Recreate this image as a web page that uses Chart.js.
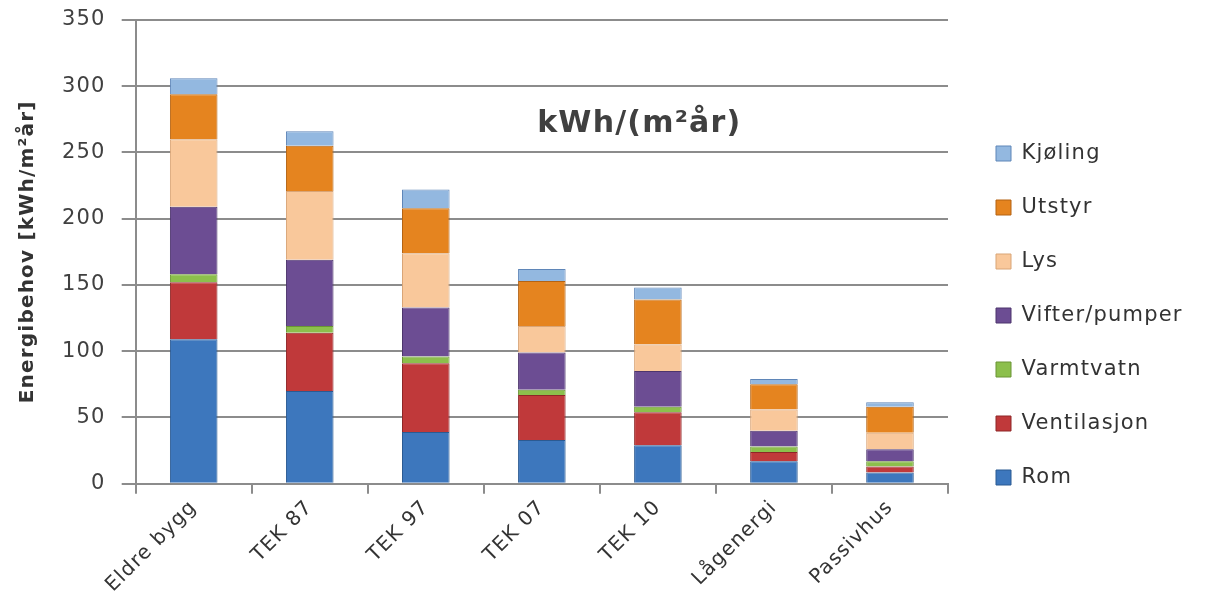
<!DOCTYPE html>
<html>
<head>
<meta charset="utf-8">
<script src="https://cdn.jsdelivr.net/npm/chart.js@4/dist/chart.umd.min.js"></script>
<style>
  html, body { margin: 0; padding: 0; background: #fff; }
  #wrap { width: 1212px; height: 611px; }
</style>
</head>
<body>
<div id="wrap"><canvas id="energi"></canvas></div>
<script>
var categories = ["Eldre bygg", "TEK 87", "TEK 97", "TEK 07", "TEK 10", "Lågenergi", "Passivhus"]

var rom         = [109, 70, 39, 33, 29, 17, 8.5]
var ventilasjon = [43, 44, 52, 34, 25, 7, 4.5]
var varmtvatn   = [6, 5, 5, 4, 4, 4, 4]
var vifter      = [51, 50, 37, 28, 27, 12, 9]
var lys         = [51, 52, 41, 20, 20, 16, 12.5]
var utstyr      = [34, 34, 34, 34, 34, 19, 19.5]
var kjoling     = [12, 11, 14, 9, 9, 4, 3.5]

var yMin = 0, yMax = 350, yStep = 50
var yTitle = "Energibehov [kWh/m²år]"
var noteText = "kWh/(m²år)"

var font = '"DejaVu Sans", "Liberation Sans", sans-serif'

function serie(label, data, color, edge) {
  return {
    label: label,
    data: data,
    backgroundColor: color,
    borderColor: edge,
    borderWidth: 1,
    stack: 'a'
  }
}

// the original text is a bit wide, spread the letters a little
var spacing = {
  id: 'spacing',
  beforeLayout: function (chart) { chart.ctx.letterSpacing = '1.2px' },
  beforeDraw: function (chart) { chart.ctx.letterSpacing = '1.2px' }
}

// legend sits in a fixed column on the right, nudged away from the plot
var legendBox = {
  id: 'legendBox',
  beforeInit: function (chart) {
    var fit = chart.legend.fit
    chart.legend.fit = function () {
      fit.bind(chart.legend)()
      this.width = 264
    }
  },
  afterLayout: function (chart) {
    var lg = chart.legend
    lg.left += 15; lg.right += 15
    lg.top += 16; lg.bottom += 16
  }
}

var note = {
  id: 'note',
  afterDatasetsDraw: function (chart) {
    var ctx = chart.ctx, x = chart.scales.x, y = chart.scales.y
    ctx.save()
    ctx.font = 'bold 30px ' + font
    ctx.fillStyle = '#404040'
    ctx.textAlign = 'center'
    ctx.textBaseline = 'middle'
    ctx.fillText(noteText, x.getPixelForValue(3.84), y.getPixelForValue(271))
    ctx.restore()
  }
}

var ctx = document.getElementById("energi")

var chart = new Chart(ctx, {
  type: 'bar',
  data: {
    labels: categories,
    datasets: [
      serie("Rom", rom, '#3d77bd', '#2b5a92'),
      serie("Ventilasjon", ventilasjon, '#c0393a', '#8e2627'),
      serie("Varmtvatn", varmtvatn, '#8cbf4c', '#6a9434'),
      serie("Vifter/pumper", vifter, '#6c4d93', '#4d356c'),
      serie("Lys", lys, '#f9c89b', '#d9a577'),
      serie("Utstyr", utstyr, '#e5841f', '#b46313'),
      serie("Kjøling", kjoling, '#93b8e0', '#5f86b8')
    ]
  },
  options: {
    responsive: true,
    maintainAspectRatio: false,
    animation: false,
    layout: { padding: { top: 0, right: 0, bottom: 12, left: 12 } },
    datasets: {
      bar: { categoryPercentage: 1, barPercentage: 0.41 }
    },
    scales: {
      x: {
        stacked: true,
        grid: { offset: true, drawOnChartArea: false, color: '#8c8c8c', lineWidth: 2, tickLength: 10 },
        border: { color: '#8c8c8c', width: 2 },
        ticks: { color: '#333', font: { family: font, size: 20 }, maxRotation: 45, minRotation: 45, padding: 2 }
      },
      y: {
        stacked: true,
        min: yMin,
        max: yMax,
        afterFit: function (scale) { scale.paddingTop = 20 },
        ticks: { stepSize: yStep, color: '#404040', font: { family: font, size: 21 }, padding: 16 },
        grid: { color: '#8c8c8c', lineWidth: 2, tickLength: 14 },
        border: { color: '#8c8c8c', width: 2 },
        title: { display: true, text: yTitle, color: '#333', font: { family: font, size: 20, weight: 'bold' }, padding: { bottom: 6 } }
      }
    },
    plugins: {
      legend: {
        position: 'right',
        reverse: true,
        labels: {
          boxWidth: 15,
          boxHeight: 15,
          padding: 33,
          color: '#333',
          font: { family: font, size: 21 }
        }
      },
      tooltip: { enabled: false }
    }
  },
  plugins: [spacing, legendBox, note]
})
</script>
</body>
</html>
